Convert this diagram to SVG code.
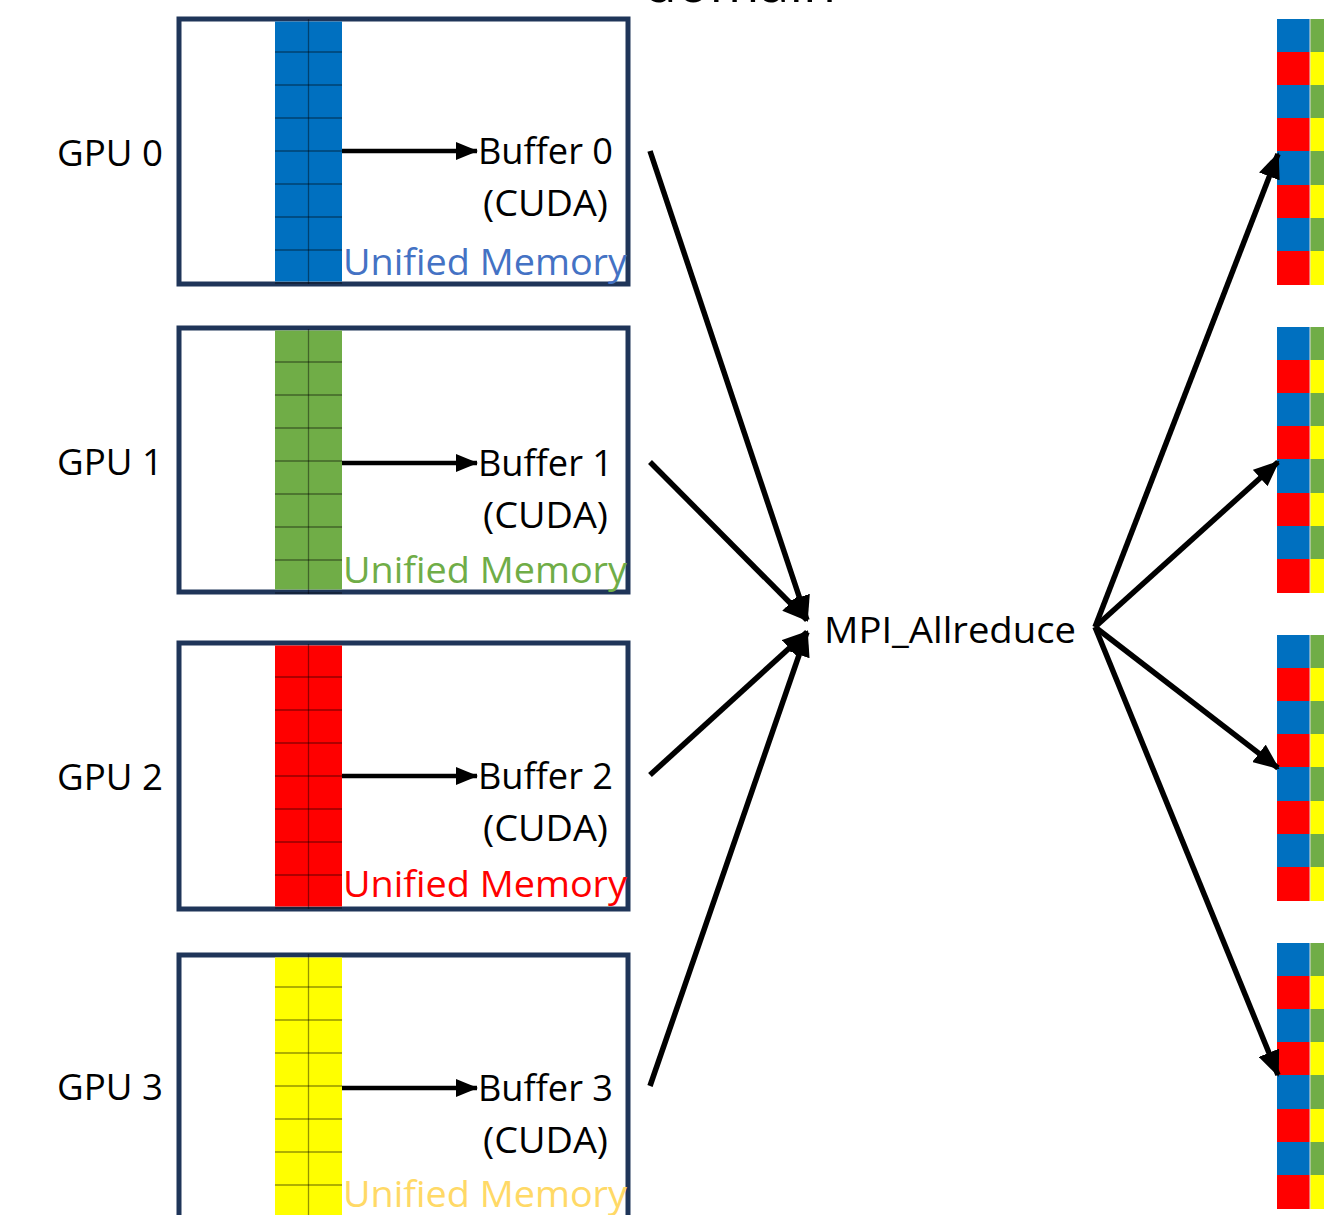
<svg xmlns="http://www.w3.org/2000/svg" width="1324" height="1215" viewBox="0 0 1324 1215">
<defs>
<style>
.box{fill:#fff;stroke:#1F3559;stroke-width:5}
.grid{stroke:#000;stroke-opacity:0.42;stroke-width:1.3}
.lbl{font-family:"Open Sans","Liberation Sans",sans-serif;font-size:37px;fill:#000}
.um{font-family:"Open Sans","Liberation Sans",sans-serif;font-size:37px}
.conn{stroke:#000;stroke-width:5.5;fill:none}
.hconn{stroke:#000;stroke-width:4.5;fill:none}
.rg{stroke:#ddd;stroke-width:1}
</style>
<marker id="ah" markerUnits="userSpaceOnUse" markerWidth="26" markerHeight="22" refX="24" refY="11" orient="auto">
<path d="M0,0 L26,11 L0,22 Z" fill="#000"/>
</marker>
<marker id="ah2" markerUnits="userSpaceOnUse" markerWidth="22" markerHeight="18" refX="21" refY="9" orient="auto">
<path d="M0,0 L22,9 L0,18 Z" fill="#000"/>
</marker>
<g id="rowlines">
<line x1="0" y1="33" x2="67" y2="33"/><line x1="0" y1="66" x2="67" y2="66"/><line x1="0" y1="99" x2="67" y2="99"/><line x1="0" y1="132" x2="67" y2="132"/><line x1="0" y1="165" x2="67" y2="165"/><line x1="0" y1="198" x2="67" y2="198"/><line x1="0" y1="231" x2="67" y2="231"/><line x1="0" y1="264" x2="67" y2="264"/>
<line x1="33.5" y1="0" x2="33.5" y2="265"/>
</g>
<g id="stack">
<rect x="0" y="0" width="33" height="266" fill="#0070C0"/>
<rect x="0" y="33" width="33" height="33" fill="#FF0000"/>
<rect x="0" y="99" width="33" height="33" fill="#FF0000"/>
<rect x="0" y="166" width="33" height="33" fill="#FF0000"/>
<rect x="0" y="232" width="33" height="34" fill="#FF0000"/>
<rect x="33" y="0" width="33" height="266" fill="#70AD47"/>
<rect x="33" y="33" width="33" height="33" fill="#FFFF00"/>
<rect x="33" y="99" width="33" height="33" fill="#FFFF00"/>
<rect x="33" y="166" width="33" height="33" fill="#FFFF00"/>
<rect x="33" y="232" width="33" height="34" fill="#FFFF00"/>
<g class="rg"><line x1="33" y1="0" x2="33" y2="266"/></g>
</g>
</defs>
<rect x="0" y="0" width="1324" height="1215" fill="#fff"/>
<text x="740" y="2" text-anchor="middle" class="lbl" style="font-size:54px">domain</text>

<g id="gpu0">
<rect class="box" x="179" y="19" width="449" height="265"/>
<rect x="275" y="21.5" width="67" height="260" fill="#0070C0"/>
<g class="grid" transform="translate(275,19)"><use href="#rowlines"/></g>
<text class="lbl" x="57" y="166" textLength="106" lengthAdjust="spacingAndGlyphs">GPU 0</text>
<text class="lbl" x="478" y="164" textLength="135" lengthAdjust="spacingAndGlyphs">Buffer 0</text>
<text class="lbl" x="483" y="216" textLength="125" lengthAdjust="spacingAndGlyphs">(CUDA)</text>
<text class="um" x="343" y="275" fill="#4472C4" textLength="284" lengthAdjust="spacingAndGlyphs">Unified Memory</text>
<line class="hconn" x1="342" y1="151" x2="477" y2="151" marker-end="url(#ah2)"/>
</g>
<g id="gpu1">
<rect class="box" x="179" y="328" width="449" height="264"/>
<rect x="275" y="330.5" width="67" height="259" fill="#70AD47"/>
<g class="grid" transform="translate(275,329)"><use href="#rowlines"/></g>
<text class="lbl" x="57" y="475" textLength="106" lengthAdjust="spacingAndGlyphs">GPU 1</text>
<text class="lbl" x="478" y="476" textLength="135" lengthAdjust="spacingAndGlyphs">Buffer 1</text>
<text class="lbl" x="483" y="528" textLength="125" lengthAdjust="spacingAndGlyphs">(CUDA)</text>
<text class="um" x="343" y="583" fill="#70AD47" textLength="284" lengthAdjust="spacingAndGlyphs">Unified Memory</text>
<line class="hconn" x1="342" y1="463" x2="477" y2="463" marker-end="url(#ah2)"/>
</g>
<g id="gpu2">
<rect class="box" x="179" y="643" width="449" height="266"/>
<rect x="275" y="645.5" width="67" height="261" fill="#FF0000"/>
<g class="grid" transform="translate(275,644)"><use href="#rowlines"/></g>
<text class="lbl" x="57" y="790" textLength="106" lengthAdjust="spacingAndGlyphs">GPU 2</text>
<text class="lbl" x="478" y="789" textLength="135" lengthAdjust="spacingAndGlyphs">Buffer 2</text>
<text class="lbl" x="483" y="841" textLength="125" lengthAdjust="spacingAndGlyphs">(CUDA)</text>
<text class="um" x="343" y="897" fill="#FF0000" textLength="284" lengthAdjust="spacingAndGlyphs">Unified Memory</text>
<line class="hconn" x1="342" y1="776" x2="477" y2="776" marker-end="url(#ah2)"/>
</g>
<g id="gpu3">
<rect class="box" x="179" y="955" width="449" height="270"/>
<rect x="275" y="957.5" width="67" height="260" fill="#FFFF00"/>
<g class="grid" transform="translate(275,954)"><use href="#rowlines"/></g>
<text class="lbl" x="57" y="1100" textLength="106" lengthAdjust="spacingAndGlyphs">GPU 3</text>
<text class="lbl" x="478" y="1101" textLength="135" lengthAdjust="spacingAndGlyphs">Buffer 3</text>
<text class="lbl" x="483" y="1153" textLength="125" lengthAdjust="spacingAndGlyphs">(CUDA)</text>
<text class="um" x="343" y="1207" fill="#FFD966" textLength="284" lengthAdjust="spacingAndGlyphs">Unified Memory</text>
<line class="hconn" x1="342" y1="1088" x2="477" y2="1088" marker-end="url(#ah2)"/>
</g>

<g id="mpi">
<text class="lbl" x="824" y="643" textLength="252" lengthAdjust="spacingAndGlyphs">MPI_Allreduce</text>
</g>

<g id="out0"><use href="#stack" x="1277" y="19"/></g>
<g id="out1"><use href="#stack" x="1277" y="327"/></g>
<g id="out2"><use href="#stack" x="1277" y="635"/></g>
<g id="out3"><use href="#stack" x="1277" y="943"/></g>

<g id="connectors">
<line class="conn" x1="650" y1="151" x2="807" y2="620" marker-end="url(#ah)"/>
<line class="conn" x1="650" y1="462" x2="807" y2="620" marker-end="url(#ah)"/>
<line class="conn" x1="650" y1="775" x2="807" y2="632" marker-end="url(#ah)"/>
<line class="conn" x1="650" y1="1086" x2="807" y2="632" marker-end="url(#ah)"/>
<line class="conn" x1="1095" y1="627" x2="1278" y2="154" marker-end="url(#ah)"/>
<line class="conn" x1="1095" y1="627" x2="1278" y2="462" marker-end="url(#ah)"/>
<line class="conn" x1="1095" y1="627" x2="1278" y2="768" marker-end="url(#ah)"/>
<line class="conn" x1="1095" y1="627" x2="1278" y2="1075" marker-end="url(#ah)"/>
</g>
</svg>
